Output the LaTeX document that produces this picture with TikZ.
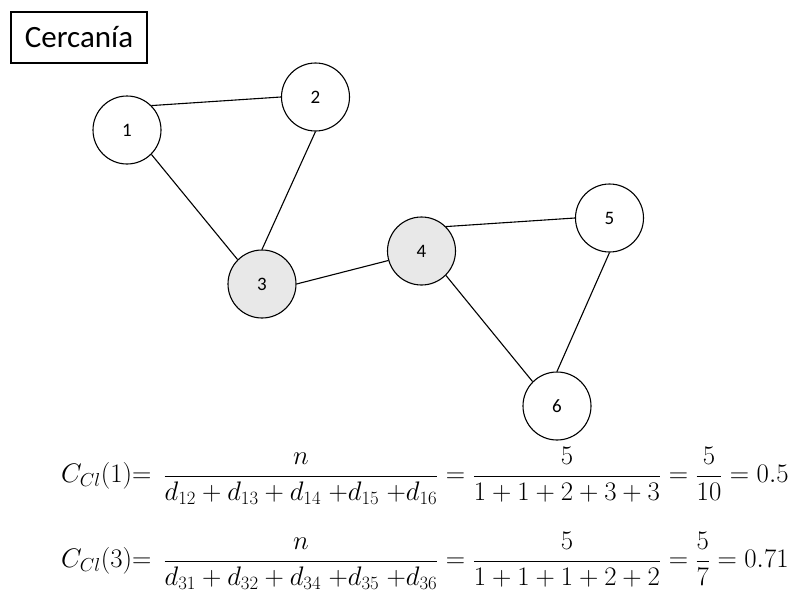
\RequirePackage{fix-cm}
\documentclass[tikz,border=0pt]{standalone}
\usepackage{fontspec}
\setmainfont{Carlito}
\begin{document}
\begin{tikzpicture}[x=1pt,y=-1pt,
  vertex/.style={circle,draw,line width=1.1pt,minimum size=68pt,inner sep=0pt,fill=white,
    font=\fontsize{19}{22}\selectfont},
  hub/.style={vertex,fill=gray!18},
  link/.style={line width=1.1pt},
  formula/.style={anchor=west,inner sep=0pt,font=\fontsize{26.8}{31}\selectfont}]
\useasboundingbox (0,0) rectangle (795,589);

% title
\node[draw,line width=1.1pt,minimum width=136pt,minimum height=51pt,inner sep=0pt,
  font=\fontsize{31}{37}\selectfont] (title) at (79,37.5) {Cercanía};

% graph
\node[vertex] (n1) at (127,130) {1};
\node[vertex] (n2) at (315.5,97) {2};
\node[hub]    (n3) at (262,284) {3};
\node[hub]    (n4) at (421.5,251) {4};
\node[vertex] (n5) at (609.5,218) {5};
\node[vertex] (n6) at (557,406) {6};

\draw[link] (n1.45) -- (n2.west);
\draw[link] (n1.-45) -- (n3.135);
\draw[link] (n2.south) -- (n3.north);
\draw[link] (n3.east) -- (n4.196);
\draw[link] (n4.45) -- (n5.west);
\draw[link] (n4.-45) -- (n6.135);
\draw[link] (n5.south) -- (n6.north);

% closeness values
\node[formula] (f1) at (61,476)
  {$\displaystyle C_{Cl}(1){=}\ \ \frac{n}{d_{12}+d_{13}+d_{14}\;{+}d_{15}\;{+}d_{16}}=\frac{5}{1+1+2+3+3}=\frac{5}{10}=0.5$};
\node[formula] (f2) at (61,561)
  {$\displaystyle C_{Cl}(3){=}\ \ \frac{n}{d_{31}+d_{32}+d_{34}\;{+}d_{35}\;{+}d_{36}}=\frac{5}{1+1+1+2+2}=\frac{5}{7}=0.71$};
\end{tikzpicture}
\end{document}
